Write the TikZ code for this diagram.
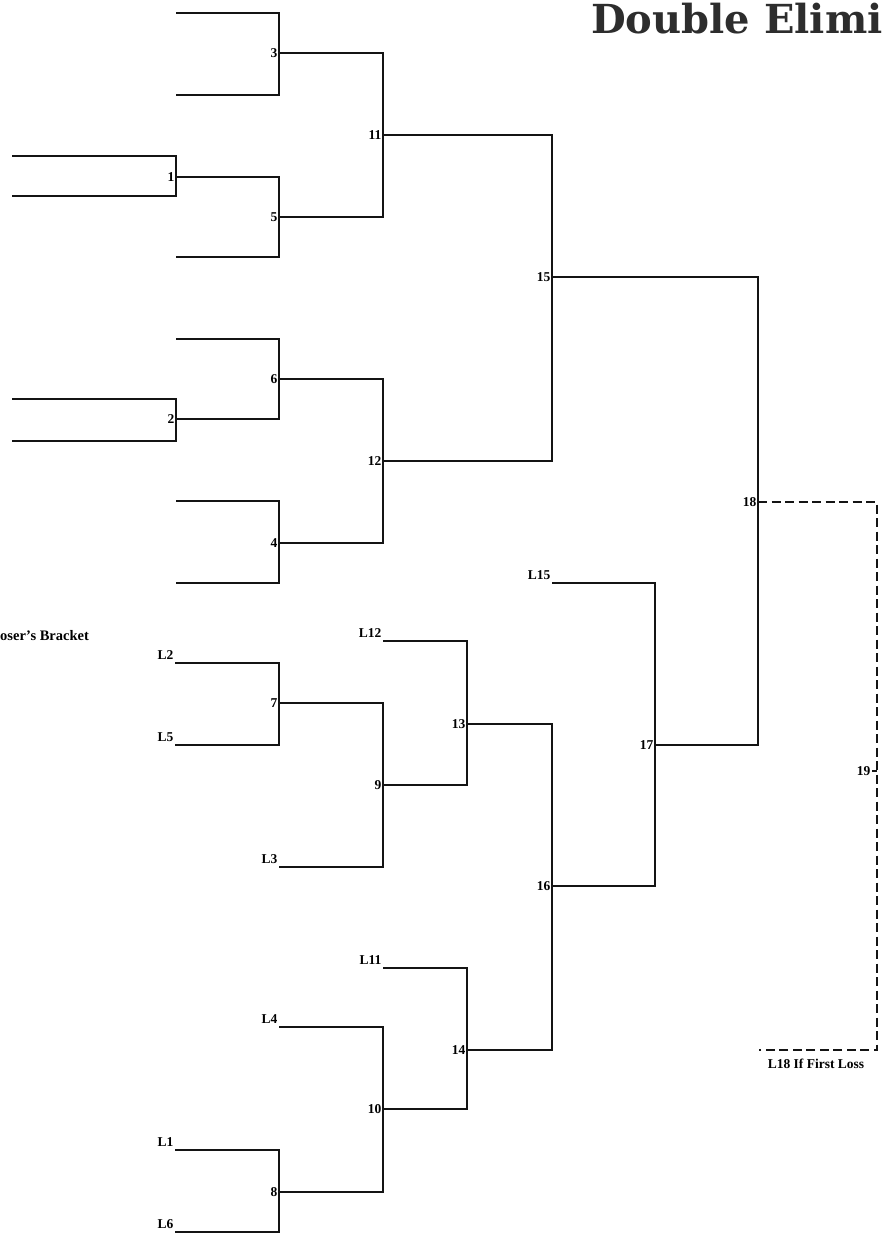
\documentclass[tikz,border=0pt]{standalone}
\usepackage{fontspec}
\setmainfont{Liberation Serif}
\newfontfamily\headfont{DejaVu Serif}
\definecolor{brink}{RGB}{20,20,20}
\definecolor{brhead}{RGB}{45,45,45}
\usepackage{tikz}

\begin{document}
\begin{tikzpicture}[x=1pt,y=-1pt,
    bk/.style={brink,line width=1.8pt},
    bkdash/.style={brink,line width=1.9pt,dash pattern=on 9pt off 4.5pt},
    num/.style={font=\fontsize{13.5}{13.5}\selectfont\bfseries,inner sep=1.5pt,anchor=east},
    slot/.style={font=\fontsize{13.5}{13.5}\selectfont\bfseries,inner sep=1.5pt,anchor=south east}]
        \useasboundingbox (0,0) rectangle (882,1247);
        \node[brhead,anchor=west,inner sep=0pt,font=\headfont\bfseries\fontsize{40}{40}\selectfont] (title) at (591,19) {Double Elimi};
        % winners
        \coordinate (t1a) at (12,156);  \coordinate (t1b) at (12,196);
        \coordinate (t3a) at (176,13);  \coordinate (t3b) at (176,95);
        \coordinate (t5b) at (176,257);
        \coordinate (t2a) at (12,399);  \coordinate (t2b) at (12,441);
        \coordinate (t6a) at (176,339);
        \coordinate (t4a) at (176,501); \coordinate (t4b) at (176,583);
        \coordinate (m1) at (176,177);  \coordinate (m2) at (176,419);
        \coordinate (m3) at (279,53);   \coordinate (m5) at (279,217);
        \coordinate (m6) at (279,379);  \coordinate (m4) at (279,543);
        \coordinate (m11) at (383,135); \coordinate (m12) at (383,461);
        \coordinate (m15) at (552,277); \coordinate (m18) at (758,502);
        \coordinate (m19) at (877,771); \coordinate (c18) at (759,1050);
        \draw[bk] (t1a) -| (m1) |- (t1b);
        \draw[bk] (t3a) -| (m3) |- (t3b);
        \draw[bk] (m1) -| (m5) |- (t5b);
        \draw[bk] (t2a) -| (m2) |- (t2b);
        \draw[bk] (t6a) -| (m6) |- (m2);
        \draw[bk] (t4a) -| (m4) |- (t4b);
        \draw[bk] (m3) -| (m11) |- (m5);
        \draw[bk] (m6) -| (m12) |- (m4);
        \draw[bk] (m11) -| (m15) |- (m12);
        % losers
        \coordinate (l2) at (175,663);  \coordinate (l5) at (175,745);
        \coordinate (l3) at (279,867);  \coordinate (l12) at (383,641);
        \coordinate (l15) at (552,583); \coordinate (l11) at (383,968);
        \coordinate (l4) at (279,1027); \coordinate (l1) at (175,1150);
        \coordinate (l6) at (175,1232);
        \coordinate (m7) at (279,703);  \coordinate (m9) at (383,785);
        \coordinate (m13) at (467,724); \coordinate (m16) at (552,886);
        \coordinate (m17) at (655,745); \coordinate (m14) at (467,1050);
        \coordinate (m10) at (383,1109); \coordinate (m8) at (279,1192);
        \draw[bk] (l2) -| (m7) |- (l5);
        \draw[bk] (m7) -| (m9) |- (l3);
        \draw[bk] (l12) -| (m13) |- (m9);
        \draw[bk] (m13) -| (m16) |- (m14);
        \draw[bk] (l15) -| (m17) |- (m16);
        \draw[bk] (l11) -| (m14) |- (m10);
        \draw[bk] (l4) -| (m10) |- (m8);
        \draw[bk] (l1) -| (m8) |- (l6);
        \draw[bk] (m15) -| (m18) |- (m17);
        \draw[bkdash] (m18) -| (m19) |- (c18);
        \draw[bk] (m19) -- ++(-5,0);
        % labels
        \foreach \m/\t in {m1/1,m2/2,m3/3,m4/4,m5/5,m6/6,m7/7,m8/8,m9/9,m10/10,
            m11/11,m12/12,m13/13,m14/14,m15/15,m16/16,m17/17,m18/18}
          \node[num] (n\t) at (\m) {\t};
        \node[num] (n19) at ([xshift=-5pt]m19) {19};
        \foreach \s/\t in {l2/L2,l5/L5,l3/L3,l12/L12,l15/L15,l11/L11,l4/L4,l1/L1,l6/L6}
          \node[slot] (s\s) at ([yshift=2pt]\s) {\t};
        \node[font=\fontsize{13.5}{13.5}\selectfont\bfseries] (loss) at (816,1064) {L18 If First Loss};
        \node[anchor=west,inner sep=0pt,font=\fontsize{14.5}{14.5}\selectfont\bfseries] (losers) at (0,636) {oser's Bracket};
\end{tikzpicture}
\end{document}
